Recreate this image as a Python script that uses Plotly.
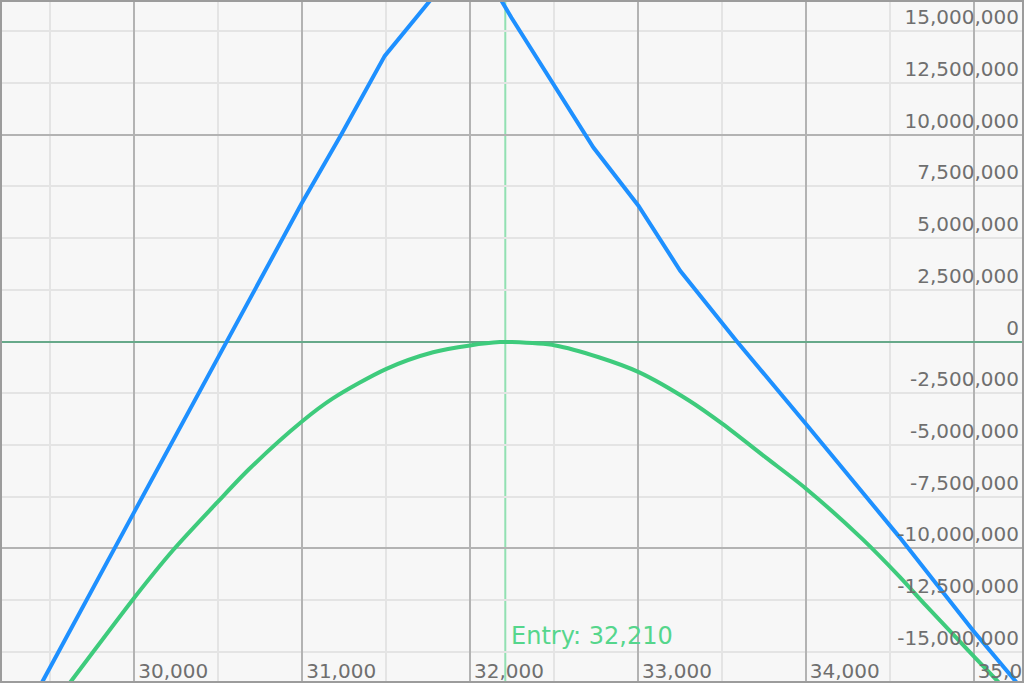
import plotly.graph_objects as go

# Underlying price levels (x) and P&L values (y)
EXPIRY_PRICE = [29200, 29453, 30000, 30550, 30995, 31233, 31492, 31760, 32010,
                32188, 32247, 32735, 33003, 33252, 33590, 34000, 34557, 34994, 35252, 35300]
EXPIRY_PNL = [-20.28e6, -16.43e6, -8.23e6, 0.0, 6.64e6, 10.0e6, 13.8e6, 16.45e6, 18.9e6,
              16.45e6, 15.64e6, 9.37e6, 6.56e6, 3.42e6, 0.0, -3.97e6, -9.44e6, -13.94e6, -16.43e6, -16.9e6]

CURRENT_PRICE = [29200, 29622, 30000, 30229, 30497, 30686, 30995, 31183, 31502, 31780,
                 32000, 32178, 32249, 32508, 32767, 33005, 33304, 33502, 33761, 34000,
                 34338, 34557, 34715, 34994, 35153, 35300]
CURRENT_PNL = [-20.9e6, -16.43e6, -12.38e6, -10.1e6, -7.75e6, -6.15e6, -3.89e6, -2.75e6, -1.32e6, -0.52e6,
               -0.19e6, -0.03e6, -0.03e6, -0.19e6, -0.76e6, -1.48e6, -2.85e6, -3.97e6, -5.6e6, -7.1e6,
               -9.55e6, -11.35e6, -12.75e6, -15.15e6, -16.5e6, -17.8e6]

ENTRY = 32210
X_RANGE = [29200, 35300]
Y_RANGE = [-16.5e6, 16.5e6]
Y_TICKS = [-15e6, -12.5e6, -10e6, -7.5e6, -5e6, -2.5e6, 0, 2.5e6, 5e6, 7.5e6, 10e6, 12.5e6, 15e6]
Y_TICK_LABELS = [f"{int(v):,}" for v in Y_TICKS]

FONT = "DejaVu Sans"
TICK_COLOR = "#6f6f6f"
MAJOR_GRID = "#b3b3b3"
MINOR_GRID = "#e4e4e4"

fig = go.Figure()
fig.add_trace(go.Scatter(x=CURRENT_PRICE, y=CURRENT_PNL, mode="lines",
                         line=dict(color="#3ecb7c", width=4, shape="spline", smoothing=0.8),
                         hoverinfo="skip"))
fig.add_trace(go.Scatter(x=EXPIRY_PRICE, y=EXPIRY_PNL, mode="lines",
                         line=dict(color="#1e90ff", width=4), hoverinfo="skip"))
# empty trace that carries the labelled overlay axis
fig.add_trace(go.Scatter(x=[], y=[], yaxis="y2", mode="lines", hoverinfo="skip"))

fig.add_vline(x=ENTRY, line_color="#92e0b2", line_width=2, layer="below")
fig.add_annotation(x=ENTRY, y=0.069, xref="x", yref="paper", text=f"Entry: {ENTRY:,}",
                   showarrow=False, xanchor="left", yanchor="middle", xshift=4,
                   font=dict(family=FONT, size=24, color="#55d68c"))

# frame
fig.add_shape(type="rect", xref="paper", yref="paper", x0=0, x1=1, y0=0, y1=1,
              line=dict(color="#9c9c9c", width=4), fillcolor="rgba(0,0,0,0)", layer="above")

fig.update_layout(
    width=1024, height=683,
    margin=dict(l=0, r=0, t=0, b=0, pad=0, autoexpand=False),
    paper_bgcolor="#f7f7f7", plot_bgcolor="#f7f7f7",
    showlegend=False,
    font=dict(family=FONT, size=20, color=TICK_COLOR),
    xaxis=dict(range=X_RANGE, tickmode="linear", tick0=0, dtick=1000, tickformat=",d",
               automargin=False,
               showgrid=True, gridcolor=MAJOR_GRID, gridwidth=2,
               minor=dict(dtick=500, tick0=0, showgrid=True, gridcolor=MINOR_GRID, gridwidth=2),
               ticks="", ticklabelposition="inside right", ticklabeloverflow="allow",
               ticklabelstandoff=-5, ticklabelshift=4,
               tickfont=dict(family=FONT, size=20, color=TICK_COLOR),
               zeroline=False, showline=False, fixedrange=True),
    yaxis=dict(range=Y_RANGE, tickmode="linear", tick0=0, dtick=10e6,
               automargin=False,
               showgrid=True, gridcolor=MAJOR_GRID, gridwidth=2,
               minor=dict(dtick=2.5e6, tick0=0, showgrid=True, gridcolor=MINOR_GRID, gridwidth=2),
               showticklabels=False, ticks="",
               zeroline=True, zerolinecolor="#67a98a", zerolinewidth=2, showline=False),
    yaxis2=dict(range=Y_RANGE, overlaying="y", side="right", anchor="x",
                automargin=False,
                tickmode="array", tickvals=Y_TICKS, ticktext=Y_TICK_LABELS,
                showgrid=False, zeroline=False, ticks="",
                ticklabelposition="inside top", ticklabelstandoff=2,
                ticklabeloverflow="allow",
                tickfont=dict(family=FONT, size=20, color=TICK_COLOR)),
)

fig.write_html("out.html", config={"displayModeBar": False},
               post_script="document.body.style.margin='0px';")
